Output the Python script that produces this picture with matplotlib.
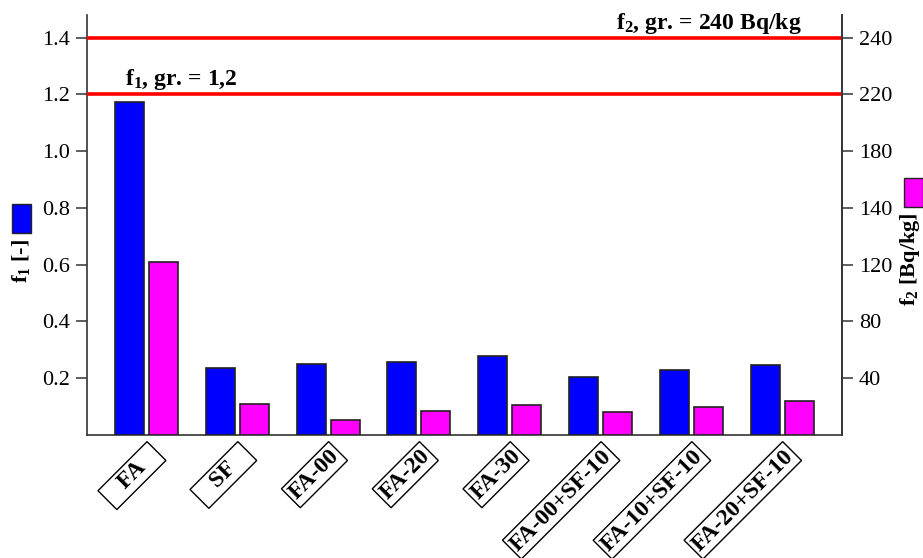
import matplotlib
matplotlib.use("Agg")
import matplotlib.pyplot as plt
import numpy as np
from matplotlib.patches import Rectangle
from matplotlib.transforms import ScaledTranslation

plt.rcParams["font.family"] = ["Liberation Serif", "DejaVu Serif"]
plt.rcParams["mathtext.fontset"] = "custom"
plt.rcParams["mathtext.default"] = "regular"

categories = ["FA", "SF", "FA-00", "FA-20", "FA-30",
              "FA-00+SF-10", "FA-10+SF-10", "FA-20+SF-10"]
f1_values = [1.175, 0.237, 0.249, 0.257, 0.277, 0.206, 0.229, 0.247]
f2_values = [121.6, 22.2, 10.6, 16.8, 21.2, 16.0, 19.6, 23.8]   # Bq/kg

f1_ticks = [0.2, 0.4, 0.6, 0.8, 1.0, 1.2, 1.4]
f2_tick_labels = ["40", "80", "120", "140", "180", "220", "240"]
f1_limit = 1.2
f2_limit_line = 1.4
BQ_PER_UNIT = 200.0

fig = plt.figure(figsize=(9.23, 5.58), dpi=100)
ax = fig.add_axes([87 / 923, 1 - 435 / 558, (842 - 87) / 923, (435 - 15) / 558])
ax2 = ax.twinx()

x = np.arange(len(categories))
w = 0.32
off = 0.187
ax.bar(x - off, f1_values, w, color="#0000ff", edgecolor="#222222", linewidth=1.2, zorder=3)
ax2.bar(x + off, f2_values, w, color="#ff00ff", edgecolor="#222222", linewidth=1.2, zorder=3)

ax.set_xlim(-0.655, 7.66)
ax.set_ylim(0, 1.48)
ax2.set_ylim(0, 1.48 * BQ_PER_UNIT)

ax.axhline(f1_limit, color="#ff0000", lw=2.6, zorder=4)
ax.axhline(f2_limit_line, color="#ff0000", lw=2.6, zorder=4)
ax.text(-0.237, f1_limit + 0.032, r"f$_1$, gr. = 1,2", fontsize=17, fontweight="bold",
        ha="left", va="baseline")
ax.text(7.22, f2_limit_line + 0.032, r"f$_2$, gr. = 240 Bq/kg", fontsize=17,
        fontweight="bold", ha="right", va="baseline")

ax.set_yticks(f1_ticks)
ax.set_yticklabels([f"{t:.1f}" for t in f1_ticks])
ax2.set_yticks([t * BQ_PER_UNIT for t in f1_ticks])
ax2.set_yticklabels(f2_tick_labels)

for a in (ax, ax2):
    a.spines["top"].set_visible(False)
    for s in a.spines.values():
        s.set_color("#333333")
        s.set_linewidth(1.2)
    a.tick_params(axis="y", length=8, width=1.1, color="#333333", labelsize=16, pad=4)
ax2.spines["left"].set_visible(False)
ax2.spines["bottom"].set_visible(False)

# short names get padded so every box has at least the same length
shown = [c if len(c) > 2 else f"   {c}   " for c in categories]
ax.set_xticks(x)
ax.set_xticklabels(shown, rotation=45, ha="right", va="center",
                   rotation_mode="anchor", fontsize=17, fontweight="bold")
ax.tick_params(axis="x", length=0, pad=13)
for lbl in ax.get_xticklabels():
    lbl.set_bbox(dict(boxstyle="square,pad=0.12", facecolor="white",
                      edgecolor="black", linewidth=1.0))
    lbl.set_transform(lbl.get_transform() + ScaledTranslation(0.08, 0, fig.dpi_scale_trans))

# axis titles with colour keys
fig.text(21 / 923, 1 - 261 / 558, r"f$_1$ [-]", rotation=90, fontsize=16,
         fontweight="bold", ha="center", va="center")
fig.patches.append(Rectangle((12 / 923, 1 - 233 / 558), 19 / 923, 29 / 558,
                             transform=fig.transFigure, facecolor="#0000ff",
                             edgecolor="#222222", linewidth=1.0))
fig.text(910 / 923, 1 - 259 / 558, r"f$_2$ [Bq/kg]", rotation=90, fontsize=16,
         fontweight="bold", ha="center", va="center")
fig.patches.append(Rectangle((904 / 923, 1 - 207 / 558), 19 / 923, 29 / 558,
                             transform=fig.transFigure, facecolor="#ff00ff",
                             edgecolor="#222222", linewidth=1.0))

fig.savefig("out.png", dpi=100)
